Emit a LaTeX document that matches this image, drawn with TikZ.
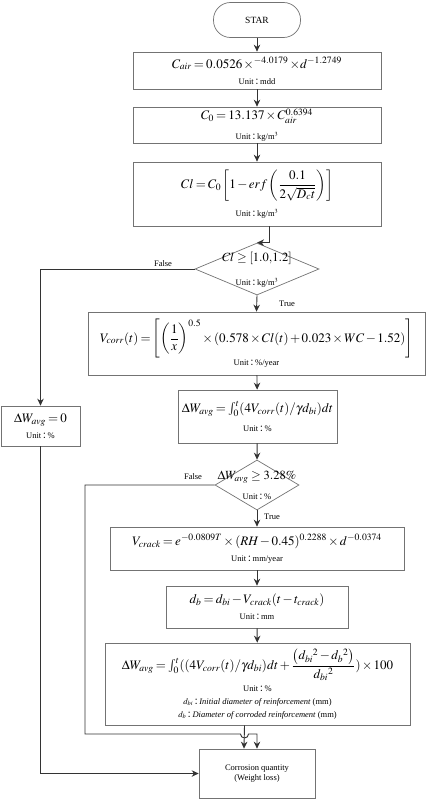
\documentclass[tikz,border=0pt]{standalone}
\usepackage{amsmath}
\usepackage{mathptmx}
\usepackage{fontspec}
\setmainfont{Liberation Serif}
\newfontfamily\cjk{Noto Sans CJK SC}
\usetikzlibrary{shapes.geometric,arrows.meta}
\newcommand{\smalltext}{\fontsize{8.5}{10}\selectfont}
\newcommand{\mathfont}{\fontsize{13}{16}\selectfont\medmuskip=2mu\thickmuskip=3mu}
\newcommand{\wcolon}{\makebox[0.75em][l]{\kern0.12em\cjk ：}}
\newcommand{\unitline}[1]{{\smalltext Unit\wcolon#1}}

\begin{document}
\begin{tikzpicture}[
    x=1pt, y=-1pt,
    >={Stealth[length=7pt,width=6.5pt]},
    box/.style={draw=black!55, line width=0.7pt, rectangle, inner sep=0pt,
      align=center, font=\mathfont},
    cond/.style={draw=black!55, line width=0.7pt, diamond, inner sep=0pt},
    flow/.style={->, draw=black!80, line width=0.9pt},
    tag/.style={font=\smalltext}
  ]
  \useasboundingbox (0,0) rectangle (427,800);

  % Start
  \node[box, rounded corners=17pt, minimum width=87pt, minimum height=35pt,
    font=\fontsize{9.5}{11}\selectfont] (star) at (257,20) {STAR};

  % Chloride in air and on the surface
  \node[box, minimum width=248pt, minimum height=37pt] (cair) at (257,70.5)
    {$C_{air}=0.0526\times^{-4.0179}\times d^{-1.2749}$\\[0pt] \unitline{mdd}};
  \node[box, minimum width=248pt, minimum height=36pt] (czero) at (257,125)
    {$C_0=13.137\times C_{air}^{0.6394}$\\[4pt] \unitline{kg/m$^3$}};
  \node[box, minimum width=248pt, minimum height=64pt] (cl) at (257,194)
    {$Cl=C_0\left[1-erf\left(\dfrac{0.1}{2\sqrt{D_c t}}\right)\right]$\\[7pt] \unitline{kg/m$^3$}};

  % First check
  \node[cond, minimum width=124pt, minimum height=52pt] (dec1) at (257,269) {};
  \node[font=\fontsize{12.5}{15}\selectfont] (dec1 text) at (257,258) {$Cl\ge[1.0{,}1.2]$};
  \node (dec1 unit) at (257,283) {\unitline{kg/m$^3$}};

  % Corrosion before cracking
  \node[box, minimum width=337pt, minimum height=63pt] (vcorr) at (256.5,343.5)
    {$V_{corr}(t)=\left[\left(\dfrac{1}{x}\right)^{0.5}\times(0.578\times Cl(t)+0.023\times WC-1.52)\right]$\\[1pt] \unitline{\%/year}};
  \node[box, minimum width=159pt, minimum height=53pt] (wavg) at (257.5,416.5)
    {$\Delta W_{avg}=\int_0^t(4V_{corr}(t)/\gamma d_{bi})dt$\\[3pt] \unitline{\%}};
  \node[box, minimum width=79pt, minimum height=40pt] (wzero) at (40.5,426)
    {$\Delta W_{avg}=0$\\[0pt] \unitline{\%}};

  % Second check
  \node[cond, minimum width=84pt, minimum height=50pt] (dec2) at (257,485) {};
  \node[font=\fontsize{12.5}{15}\selectfont] (dec2 text) at (257,477) {$\Delta W_{avg}\ge3.28\%$};
  \node (dec2 unit) at (257,497) {\unitline{\%}};

  % Corrosion after cracking
  \node[box, minimum width=294pt, minimum height=43pt] (vcrack) at (257,548.5)
    {$V_{crack}=e^{-0.0809T}\times(RH-0.45)^{0.2288}\times d^{-0.0374}$\\[0pt] \unitline{mm/year}};
  \node[box, minimum width=182pt, minimum height=42pt] (db) at (257,607)
    {$d_b=d_{bi}-V_{crack}(t-t_{crack})$\\[0pt] \unitline{mm}};
  \node[box, minimum width=305pt, minimum height=82pt] (final) at (257.5,684)
    {$\Delta W_{avg}=\int_0^t((4V_{corr}(t)/\gamma d_{bi})dt+\dfrac{\left(d_{bi}{}^2-d_b{}^2\right)}{d_{bi}{}^2})\times100$\\[4pt]
     \unitline{\%}\\[-3pt]
     \smalltext $d_{bi}$\wcolon\textit{Initial diameter of reinforcement} (mm)\\[-3pt]
     \smalltext $d_b$\wcolon\textit{Diameter of corroded reinforcement} (mm)};

  % End
  \node[box, minimum width=116pt, minimum height=49pt, font=\smalltext]
    (corr) at (257,773.5) {Corrosion quantity\\(Weight loss)};

  % Connectors
  \draw[flow] (star) -- (cair);
  \draw[flow] (cair) -- (czero);
  \draw[flow] (czero) -- (cl);
  \draw[flow] ([xshift=12pt]cl.south) |- (dec1.north);
  \draw[flow] (dec1.west) -| (wzero.north);
  \node[tag] at (163,264) {False};
  \draw[flow] (dec1.south) -- (vcorr.north);
  \node[tag] at (287,304) {True};
  \draw[flow] (vcorr) -- (wavg);
  \draw[flow] (wavg) -- (dec2.north);
  \draw[flow] (dec2.south) -- (vcrack.north);
  \node[tag] at (272,517) {True};
  \draw[flow] (vcrack) -- (db);
  \draw[flow] (db) -- (final);
  \draw[flow] ([xshift=-13pt]final.south) -- ([xshift=-13pt]corr.north);
  \coordinate (fbend) at (85,734);
  \coordinate (hop) at (244.5,734);
  \draw[flow] (dec2.west) -| (fbend) -- ([xshift=-4pt]hop)
    arc[start angle=180, end angle=360, radius=4pt] -- (corr.north |- hop) -- (corr.north);
  \node[tag] at (193,477) {False};
  \draw[flow] (wzero.south) |- (corr.west);
\end{tikzpicture}
\end{document}
